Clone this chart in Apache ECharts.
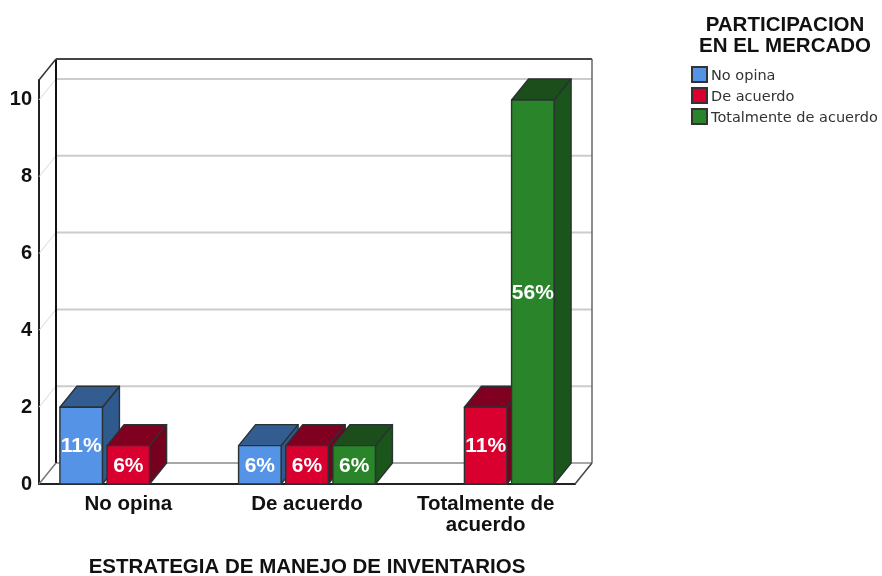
<!DOCTYPE html>
<html>
<head>
<meta charset="utf-8">
<style>html,body{margin:0;padding:0;background:#fff}#chart{width:882px;height:576px}</style>
<script src="https://cdn.jsdelivr.net/npm/echarts@6/dist/echarts.min.js"></script>
</head>
<body>
<div id="chart"></div>
<script>
var categories = ['No opina', 'De acuerdo', 'Totalmente de\nacuerdo'];
var noOpina = [2, 1, 0];
var deAcuerdo = [1, 1, 2];
var totalmente = [0, 1, 10];
var yTicks = [0, 2, 4, 6, 8, 10];
var total = 18;

var DX = 17, DY = -21;
var FONT = '"Liberation Sans", Arial, sans-serif';

function line(x1, y1, x2, y2, stroke, width) {
    return {
        type: 'line',
        shape: { x1: x1, y1: y1, x2: x2, y2: y2 },
        style: { stroke: stroke, lineWidth: width }
    };
}

function renderWalls(params, api) {
    var cs = params.coordSys;
    var y = api.coord([0, api.value(0)])[1];
    var left = cs.x, right = cs.x + cs.width, top = cs.y, bottom = cs.y + cs.height;
    var kids = [
        line(left, y, left + DX, y + DY, '#d8d8d8', 1),
        line(left + DX, y + DY, right + DX, y + DY, api.value(0) === 0 ? '#a8a8a8' : '#cccccc', 2)
    ];
    if (params.dataIndex === yTicks.length - 1) {
        kids.push(line(left + DX, top + DY, left + DX, bottom + DY, '#111', 2));
        kids.push(line(left + DX, top + DY, right + DX, top + DY, '#444', 2));
        kids.push(line(right + DX, top + DY, right + DX, bottom + DY, '#666', 1.5));
        kids.push(line(left, top, left + DX, top + DY, '#333', 1.5));
        kids.push(line(left, bottom, left + DX, bottom + DY, '#777', 1.5));
        kids.push(line(right, bottom, right + DX, bottom + DY, '#444', 1.5));
    }
    return { type: 'group', children: kids };
}

function makeRender(slot, colors) {
    return function (params, api) {
        var val = api.value(1);
        if (!val) return null;
        var band = api.size([1, 0])[0];
        var pitch = band * 0.264, w = band * 0.238;
        var c = api.coord([api.value(0), 0]);
        var t = api.coord([api.value(0), val]);
        var x = c[0] + (slot - 1) * pitch - w / 2;
        function poly(points, fill) {
            return {
                type: 'polygon',
                shape: { points: points },
                style: { fill: fill, stroke: '#2a3233', lineWidth: 1.4, lineJoin: 'round' }
            };
        }
        return {
            type: 'group',
            children: [
                poly([[x + w, t[1]], [x + w + DX, t[1] + DY], [x + w + DX, c[1] + DY], [x + w, c[1]]], colors.side),
                poly([[x, t[1]], [x + DX, t[1] + DY], [x + w + DX, t[1] + DY], [x + w, t[1]]], colors.top),
                poly([[x, t[1]], [x + w, t[1]], [x + w, c[1]], [x, c[1]]], colors.front),
                {
                    type: 'text',
                    style: {
                        text: Math.round(val / total * 100) + '%',
                        x: x + w / 2,
                        y: (t[1] + c[1]) / 2 + 1,
                        align: 'center',
                        verticalAlign: 'middle',
                        fill: '#fff',
                        font: 'bold 21px ' + FONT
                    }
                }
            ]
        };
    };
}

function barSeries(name, values, slot, colors) {
    return {
        name: name,
        type: 'custom',
        z: 3 + slot,
        clip: false,
        itemStyle: { color: colors.front, borderColor: '#333', borderWidth: 1 },
        encode: { x: 0, y: 1 },
        data: values.map(function (v, i) { return [i, v]; }),
        renderItem: makeRender(slot, colors)
    };
}

var myChart = echarts.init(document.getElementById('chart'));
var option = {
    animation: false,
    backgroundColor: '#fff',
    title: {
        text: 'PARTICIPACION\nEN EL MERCADO',
        left: 780,
        top: 10,
        textAlign: 'center',
        textStyle: { color: '#111', fontFamily: FONT, fontSize: 20.5, fontWeight: 'bold', lineHeight: 21 }
    },
    legend: {
        data: ['No opina', 'De acuerdo', 'Totalmente de acuerdo'],
        orient: 'vertical',
        left: 691,
        top: 66,
        padding: 0,
        itemWidth: 15,
        itemHeight: 15,
        itemGap: 3,
        icon: 'rect',
        formatter: '{t|{name}}',
        textStyle: {
            rich: {
                t: { color: '#333', fontFamily: '"DejaVu Sans", sans-serif', fontSize: 14.5, height: 17, padding: [4, 0, 0, -1] }
            }
        }
    },
    grid: { left: 39, right: 307, top: 80, bottom: 92, outerBoundsMode: 'none' },
    xAxis: {
        type: 'category',
        data: categories,
        name: 'ESTRATEGIA DE MANEJO DE INVENTARIOS',
        nameLocation: 'middle',
        nameGap: 83,
        nameTextStyle: { color: '#111', fontFamily: FONT, fontSize: 20.5, fontWeight: 'bold', verticalAlign: 'middle' },
        axisLine: { lineStyle: { color: '#222', width: 2 } },
        axisTick: { show: false },
        axisLabel: { interval: 0, margin: 10, color: '#111', fontFamily: FONT, fontSize: 20.5, fontWeight: 'bold', lineHeight: 21 },
        splitLine: { show: false }
    },
    yAxis: {
        type: 'value',
        min: 0,
        max: 10.52,
        axisLine: { show: true, lineStyle: { color: '#222', width: 2 } },
        axisTick: { show: false },
        axisLabel: { customValues: yTicks, margin: 7, color: '#111', fontFamily: FONT, fontSize: 20, fontWeight: 'bold' },
        splitLine: { show: false }
    },
    series: [
        {
            type: 'custom',
            z: 1,
            clip: false,
            silent: true,
            encode: { y: 0 },
            data: yTicks.map(function (v) { return [v]; }),
            renderItem: renderWalls
        },
        barSeries('No opina', noOpina, 0, { front: '#5593E6', top: '#335C90', side: '#2F5A8E' }),
        barSeries('De acuerdo', deAcuerdo, 1, { front: '#D90030', top: '#7F0020', side: '#78001F' }),
        barSeries('Totalmente de acuerdo', totalmente, 2, { front: '#2A852A', top: '#1B4E1A', side: '#1A551B' })
    ]
};
myChart.setOption(option);
</script>
</body>
</html>
